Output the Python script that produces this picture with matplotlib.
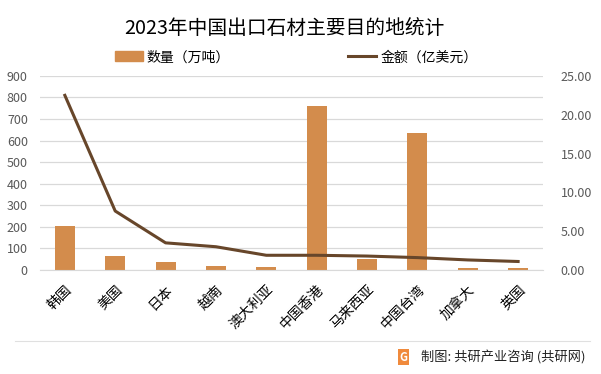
import matplotlib
matplotlib.use("Agg")
import matplotlib.pyplot as plt
from matplotlib.lines import Line2D
from matplotlib.patches import Patch

plt.rcParams['font.family'] = ['Noto Sans CJK SC', 'DejaVu Sans']

countries = ["韩国", "美国", "日本", "越南", "澳大利亚", "中国香港", "马来西亚", "中国台湾", "加拿大", "英国"]
volume = [204, 65, 37, 19, 14, 761, 51, 635, 9, 8]          # 万吨
amount = [22.5, 7.6, 3.5, 3.0, 1.9, 1.9, 1.8, 1.6, 1.3, 1.1]  # 亿美元

BAR_COLOR = "#D38C4C"
LINE_COLOR = "#67462A"
TICK_COLOR = "#595959"
GRID_COLOR = "#D9D9D9"

fig = plt.figure(figsize=(6.01, 3.74), dpi=100)
ax = fig.add_axes([0.066, 0.278, 0.838, 0.519])
ax2 = ax.twinx()

x = range(len(countries))
ax.bar(x, volume, width=0.4, color=BAR_COLOR, zorder=2)
ax2.plot(x, amount, color=LINE_COLOR, lw=2.2, zorder=3)

ax.set_xlim(-0.5, len(countries) - 0.5)
ax.set_ylim(0, 900)
ax.set_yticks(range(0, 901, 100))
ax2.set_ylim(0, 25)
ax2.set_yticks([0, 5, 10, 15, 20, 25])
ax2.set_yticklabels([f"{v:.2f}" for v in [0, 5, 10, 15, 20, 25]])

ax.grid(axis="y", color=GRID_COLOR, lw=0.9, zorder=0)
for a in (ax, ax2):
    for s in a.spines.values():
        s.set_visible(False)
    a.tick_params(length=0, labelsize=9, colors=TICK_COLOR)
ax.spines["bottom"].set_visible(True)
ax.spines["bottom"].set_color(GRID_COLOR)
ax.set_axisbelow(True)
ax2.set_zorder(ax.get_zorder() + 1)
ax2.patch.set_visible(False)

ax.set_xticks(list(x))
ax.set_xticklabels(countries, rotation=45, ha="right", va="top",
                   rotation_mode="anchor", color="#000000", fontsize=10)
ax.tick_params(axis="x", pad=9)
ax.tick_params(axis="y", pad=8.5)
ax2.tick_params(axis="y", pad=12.5)

fig.text(0.473, 0.925, "2023年中国出口石材主要目的地统计", ha="center", va="center",
         fontsize=14.2, color="#000000")

handles = [Patch(color=BAR_COLOR), Line2D([0], [0], color=LINE_COLOR, lw=2.2)]
fig.legend(handles[:1], ["数量（万吨）"], loc="center", bbox_to_anchor=(0.287, 0.847),
           frameon=False, fontsize=10, handlelength=2.0, handleheight=0.7,
           handletextpad=0.3)
fig.legend(handles[1:], ["金额（亿美元）"], loc="center", bbox_to_anchor=(0.687, 0.847),
           frameon=False, fontsize=10, handlelength=2.0, handletextpad=0.3)

fig.add_artist(Line2D([0.025, 0.982], [0.088, 0.088], color="#E0E0E0", lw=0.8))
fig.text(0.975, 0.045, "制图: 共研产业咨询 (共研网)", ha="right", va="center",
         fontsize=9.5, color="#222222")
fig.text(0.671, 0.045, "G", ha="center", va="center", fontsize=8,
         color="white", fontweight="bold",
         bbox=dict(boxstyle="square,pad=0.15", fc="#F08A3C", ec="none"))

fig.savefig("out.png", dpi=100)
